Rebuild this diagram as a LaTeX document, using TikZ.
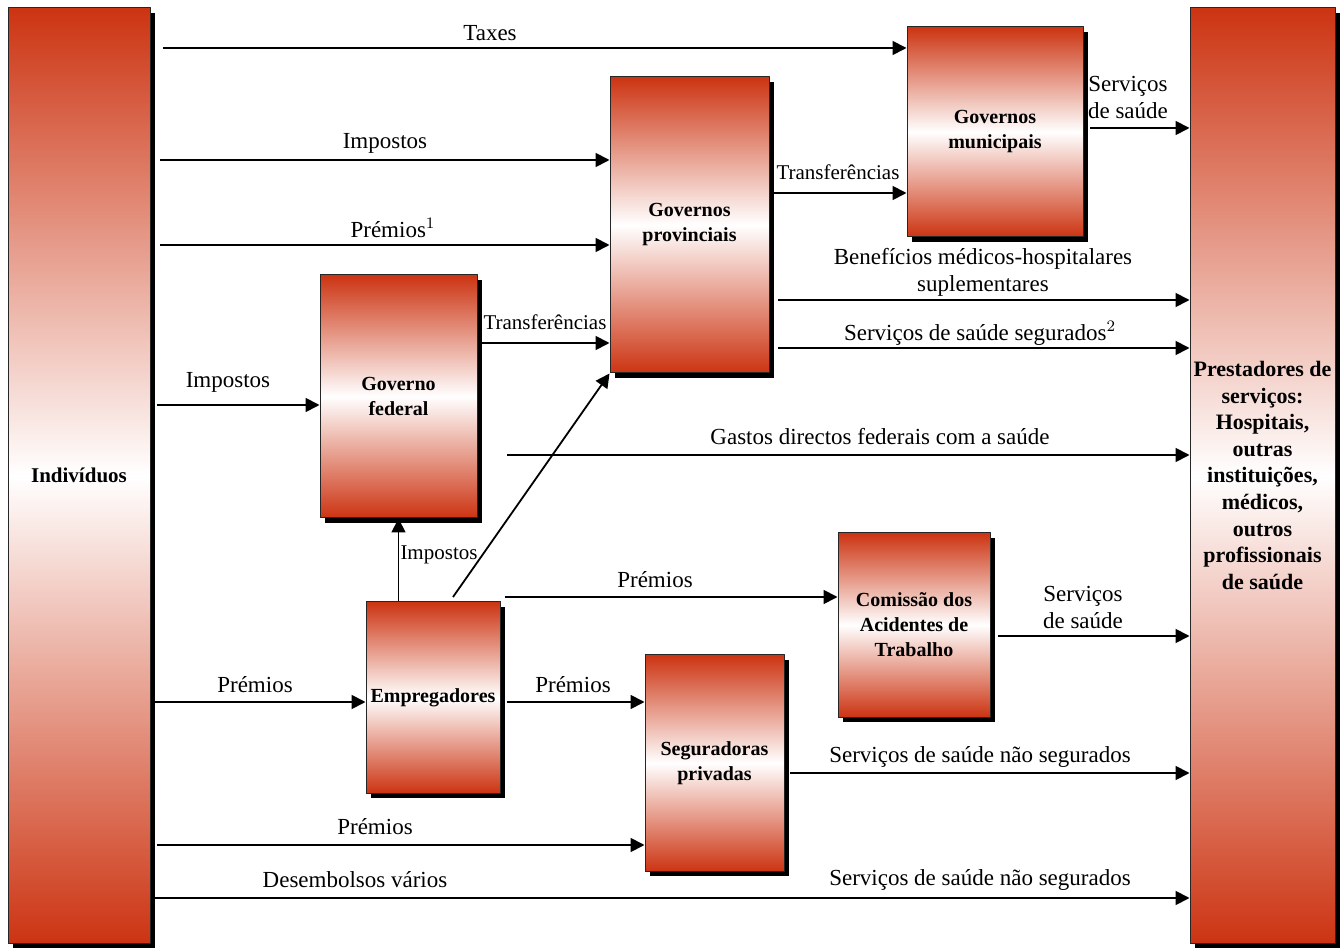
\documentclass[tikz,border=0pt]{standalone}
\usepackage{fontspec}
\setmainfont{Liberation Serif}
\usetikzlibrary{arrows.meta,shadows}
\definecolor{boxred}{RGB}{204,52,18}
\begin{document}
\begin{tikzpicture}[x=0.5pt,y=-0.5pt,>={Triangle[length=7pt,width=7pt]},line join=bevel,
  box/.style={draw=black!85,line width=0.5pt,top color=boxred,bottom color=boxred,middle color=white,
    drop shadow={shadow xshift=2.5pt,shadow yshift=-2.5pt,fill=black,opacity=1},
    align=center,font=\fontsize{10}{12.5}\selectfont\bfseries,inner sep=0pt},
  flow/.style={black,line width=0.9pt,->},
  lbl/.style={font=\fontsize{11.5}{13.5}\selectfont,inner sep=0pt,align=center},
  lblsmall/.style={font=\fontsize{10.5}{12}\selectfont,inner sep=0pt}]
\useasboundingbox (0,0) rectangle (1344,951);
%% boxes
\node (node_ind) at (79,475.5) [box,minimum width=71pt,minimum height=467.5pt,font=\fontsize{10.5}{13}\selectfont\bfseries] {Indivíduos};
\node (node_prest) at (1262.5,475.5) [box,minimum width=72.5pt,minimum height=467.5pt,font=\fontsize{11}{13.3}\selectfont\bfseries]
  {Prestadores de\\serviços:\\Hospitais,\\outras\\instituições,\\médicos,\\outros\\profissionais\\de saúde};
\node (node_mun) at (995,132) [box,minimum width=88pt,minimum height=105pt] {Governos\\municipais};
\node (node_prov) at (689.5,225) [box,minimum width=79.5pt,minimum height=148pt] {Governos\\provinciais};
\node (node_fed) at (398.5,396.5) [box,minimum width=78.5pt,minimum height=121.5pt] {Governo\\federal};
\node (node_emp) at (433,697.5) [box,minimum width=67pt,minimum height=95.5pt] {Empregadores};
\node (node_com) at (914,625) [box,minimum width=76pt,minimum height=92pt] {Comissão dos\\Acidentes de\\Trabalho};
\node (node_seg) at (714.5,763) [box,minimum width=69.5pt,minimum height=108pt] {Seguradoras\\privadas};
%% free ends of the flows
\coordinate (c_taxes) at (163,48);
\coordinate (c_imp1) at (160,160);
\coordinate (c_prem1) at (160,245);
\coordinate (c_tr1) at (773,193);
\coordinate (c_mun) at (1090,128);
\coordinate (c_ben) at (778,300);
\coordinate (c_tr2) at (480,343);
\coordinate (c_seg2) at (778,348);
\coordinate (c_imp2) at (157,405);
\coordinate (c_gastos) at (507,455);
\coordinate (c_diag) at (453,597);
\coordinate (c_prem2) at (505,597);
\coordinate (c_com) at (998,636);
\coordinate (c_prem3) at (152,702);
\coordinate (c_prem4) at (507,702);
\coordinate (c_nseg) at (790,773);
\coordinate (c_prem5) at (157,845);
\coordinate (c_desemb) at (152,898);
%% flows
\draw [flow] (c_taxes) -- (c_taxes -| node_mun.west);
\draw [flow] (c_imp1) -- (c_imp1 -| node_prov.west);
\draw [flow] (c_prem1) -- (c_prem1 -| node_prov.west);
\draw [flow] (c_tr1) -- (c_tr1 -| node_mun.west);
\draw [flow] (c_mun) -- (c_mun -| node_prest.west);
\draw [flow] (c_ben) -- (c_ben -| node_prest.west);
\draw [flow] (c_tr2) -- (c_tr2 -| node_prov.west);
\draw [flow] (c_seg2) -- (c_seg2 -| node_prest.west);
\draw [flow] (c_imp2) -- (c_imp2 -| node_fed.west);
\draw [flow] (c_gastos) -- (c_gastos -| node_prest.west);
\draw [flow] (node_fed.south |- node_emp.north) -- (node_fed.south);
\draw [flow] (c_diag) -- (node_prov.south west);
\draw [flow] (c_prem2) -- (c_prem2 -| node_com.west);
\draw [flow] (c_com) -- (c_com -| node_prest.west);
\draw [flow] (c_prem3) -- (c_prem3 -| node_emp.west);
\draw [flow] (c_prem4) -- (c_prem4 -| node_seg.west);
\draw [flow] (c_nseg) -- (c_nseg -| node_prest.west);
\draw [flow] (c_prem5) -- (c_prem5 -| node_seg.west);
\draw [flow] (c_desemb) -- (c_desemb -| node_prest.west);
%% labels
\node (lbl_taxes) at (490,33) [lbl] {Taxes};
\node (lbl_imp1) at (385,143) [lbl] {Impostos};
\node (lbl_prem1) at (393,228) [lbl] {Prémios$^{1}$};
\node (lbl_tr1) at (838,172) [lblsmall] {Transferências};
\node (lbl_mun) at (1128,98) [lbl] {Serviços\\de saúde};
\node (lbl_ben) at (983,272) [lbl] {Benefícios médicos-hospitalares\\suplementares};
\node (lbl_tr2) at (545,322) [lblsmall] {Transferências};
\node (lbl_seg2) at (980,333) [lbl] {Serviços de saúde segurados$^{2}$};
\node (lbl_imp2) at (228,382) [lbl] {Impostos};
\node (lbl_gastos) at (880,437) [lbl] {Gastos directos federais com a saúde};
\node (lbl_imp3) at (439,555) [lblsmall] {Impostos};
\node (lbl_prem2) at (655,580) [lbl] {Prémios};
\node (lbl_com) at (1083,607) [lbl] {Serviços\\de saúde};
\node (lbl_prem3) at (255,685) [lbl] {Prémios};
\node (lbl_prem4) at (573,685) [lbl] {Prémios};
\node (lbl_nseg) at (980,757) [lbl] {Serviços de saúde não segurados};
\node (lbl_prem5) at (375,827) [lbl] {Prémios};
\node (lbl_desemb) at (355,880) [lbl] {Desembolsos vários};
\node (lbl_nseg2) at (980,880) [lbl] {Serviços de saúde não segurados};
%
\end{tikzpicture}
\end{document}
